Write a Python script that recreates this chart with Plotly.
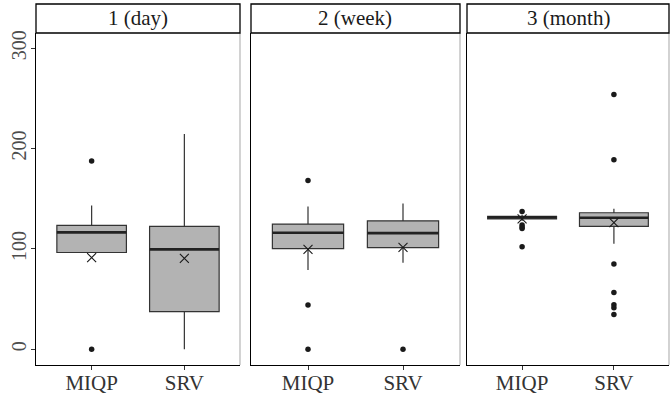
import plotly.graph_objects as go

panels = ["1 (day)", "2 (week)", "3 (month)"]
methods = ["MIQP", "SRV"]

# per panel: [MIQP, SRV]
q1 = [[96.5, 37.5], [100.3, 101.3], [130.0, 122.5]]
median = [[116.5, 99.6], [116.2, 115.8], [131.5, 131.1]]
q3 = [[123.5, 122.5], [124.8, 128.1], [132.5, 136.1]]
lower = [[96.5, 0.0], [79.0, 86.4], [128.0, 105.3]]
upper = [[143.3, 214.6], [142.3, 145.3], [134.0, 140.0]]
means = [[91.4, 90.7], [99.6, 101.6], [130.0, 126.2]]
outliers = [
    [[187.7, 0.0], []],
    [[168.2, 44.3, 0.0], [0.0]],
    [[137.4, 124.0, 122.0, 120.5, 102.3], [253.9, 189.0, 85.0, 56.6, 44.5, 41.5, 34.8]],
]
yticks = [0, 100, 200, 300]

FONT = "Liberation Serif, Times New Roman, serif"
W, H = 670, 394
ml, mr, mt, mb = 36, 1, 33, 29
pw = W - ml - mr
ph = H - mt - mb
panel_px = [(0, 204), (215, 424), (431, 633)]
domains = [(a / pw, b / pw) for a, b in panel_px]
yrange = [-15.6, 315.2]

fig = go.Figure()
for p in range(3):
    xa = "x" if p == 0 else f"x{p+1}"
    ya = "y" if p == 0 else f"y{p+1}"
    for m in range(2):
        xpos = m + 1
        fig.add_trace(go.Box(
            x=[xpos], q1=[q1[p][m]], median=[median[p][m]], q3=[q3[p][m]],
            lowerfence=[lower[p][m]], upperfence=[upper[p][m]],
            width=0.75, whiskerwidth=0, boxpoints=False,
            fillcolor="#b3b3b3", line=dict(color="#333333", width=1.2),
            xaxis=xa, yaxis=ya, showlegend=False, hoverinfo="skip"))
        # thick median line
        fig.add_trace(go.Scatter(
            x=[xpos - 0.375, xpos + 0.375], y=[median[p][m]] * 2, mode="lines",
            line=dict(color="#222222", width=2.6), xaxis=xa, yaxis=ya,
            showlegend=False, hoverinfo="skip"))
        if outliers[p][m]:
            fig.add_trace(go.Scatter(
                x=[xpos] * len(outliers[p][m]), y=outliers[p][m], mode="markers",
                marker=dict(color="#1a1a1a", size=5.5), xaxis=xa, yaxis=ya,
                showlegend=False, hoverinfo="skip"))
        fig.add_trace(go.Scatter(
            x=[xpos], y=[means[p][m]], mode="markers",
            marker=dict(symbol="x-thin", size=9, line=dict(color="#1a1a1a", width=1.1)),
            xaxis=xa, yaxis=ya, showlegend=False, hoverinfo="skip"))

layout = dict(
    width=W, height=H, margin=dict(l=ml, r=mr, t=mt, b=mb, autoexpand=False),
    paper_bgcolor="white", plot_bgcolor="white",
    font=dict(family=FONT, size=21, color="#333333"),
    showlegend=False,
)
shapes = []
annotations = []
for p in range(3):
    xk = "xaxis" if p == 0 else f"xaxis{p+1}"
    yk = "yaxis" if p == 0 else f"yaxis{p+1}"
    ya = "y" if p == 0 else f"y{p+1}"
    layout[xk] = dict(
        domain=list(domains[p]), anchor=ya, range=[0.4, 2.6],
        tickvals=[1, 2], ticktext=methods, showgrid=False, zeroline=False,
        showline=True, linecolor="black", linewidth=1.3,
        ticks="outside", ticklen=4, tickcolor="#333333", automargin=False,
        ticklabelstandoff=-5,
        tickfont=dict(family=FONT, size=21, color="#333333"), fixedrange=True)
    layout[yk] = dict(
        domain=[0, 1], anchor="x" if p == 0 else f"x{p+1}", range=yrange,
        tickvals=yticks, showgrid=False, zeroline=False,
        showline=True, linecolor="black", linewidth=1.3,
        ticks="outside" if p == 0 else "", ticklen=4, tickcolor="#333333",
        showticklabels=(p == 0), tickangle=-90, automargin=False,
        ticklabelstandoff=-3,
        tickfont=dict(family=FONT, size=20, color="#4d4d4d"), fixedrange=True)
    x0, x1 = domains[p]
    # right border (gray)
    shapes.append(dict(type="line", xref="paper", yref="paper", x0=x1, x1=x1, y0=0, y1=1,
                       line=dict(color="#bbbbbb", width=1.3)))
    # strip
    shapes.append(dict(type="rect", xref="paper", yref="paper", x0=x0, x1=x1,
                       y0=1, y1=1 + 29 / ph,
                       fillcolor="white", line=dict(color="black", width=1.3)))
    annotations.append(dict(text=panels[p], xref="paper", yref="paper",
                            x=(x0 + x1) / 2, y=1 + 14.5 / ph,
                            xanchor="center", yanchor="middle", showarrow=False,
                            font=dict(family=FONT, size=21, color="#1a1a1a")))
layout["shapes"] = shapes
layout["annotations"] = annotations
fig.update_layout(**layout)
fig.write_html("out.html", config={"displayModeBar": False},
               post_script="document.body.style.margin='0';document.body.style.overflow='hidden';")
